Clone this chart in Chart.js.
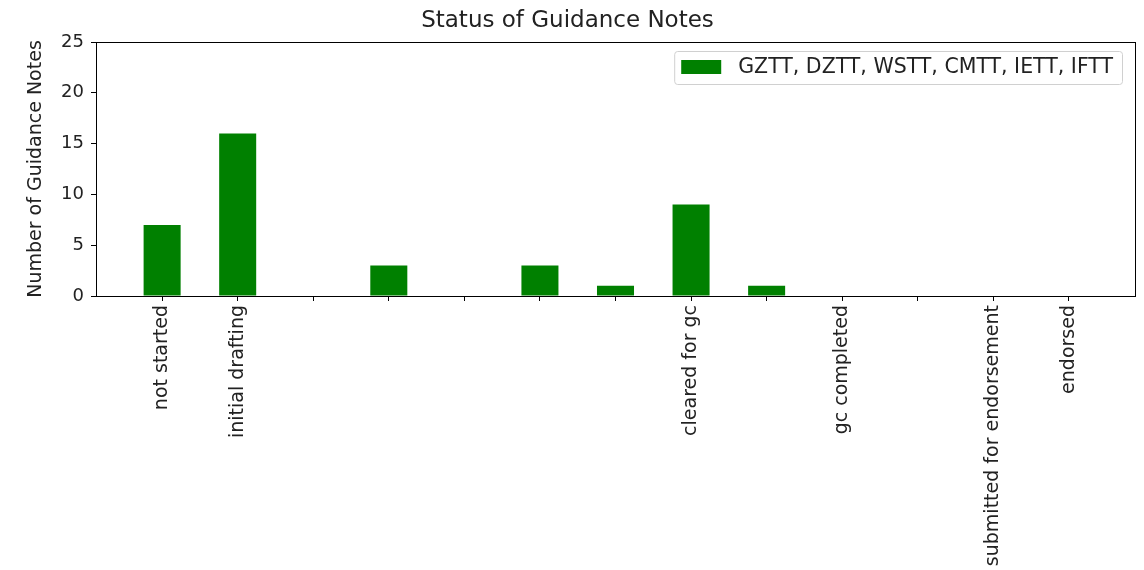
<!DOCTYPE html>
<html>
<head>
<meta charset="utf-8">
<script src="https://cdn.jsdelivr.net/npm/chart.js@4"></script>
<style>
  html, body { margin: 0; padding: 0; background: #fff; }
  #wrap { width: 1144px; height: 570px; }
</style>
</head>
<body>
<div id="wrap"><canvas id="statusChart"></canvas></div>
<script>
const statusLabels = [
  'not started', 'initial drafting', '', '', '', '', '',
  'cleared for gc', '', 'gc completed', '', 'submitted for endorsement', 'endorsed'
];
const noteCounts = [7, 16, 0, 3, 0, 3, 1, 9, 1, 0, 0, 0, 0];
const seriesName = 'GZTT, DZTT, WSTT, CMTT, IETT, IFTT';
const yTicks = [0, 5, 10, 15, 20, 25];

const font = 'DejaVu Sans';

// box round the axes plus a matplotlib-style legend inside the plot
const frameAndLegend = {
  id: 'frameAndLegend',
  afterDraw(chart) {
    const { ctx, chartArea: a } = chart;
    ctx.save();
    ctx.strokeStyle = '#000';
    ctx.lineWidth = 1;
    ctx.strokeRect(Math.round(a.left) + 0.5, Math.round(a.top) + 0.5,
      Math.round(a.right - a.left), Math.round(a.bottom - a.top));

    const ds = chart.data.datasets[0];
    ctx.font = '20.5px "' + font + '"';
    const tw = ctx.measureText(ds.label).width;
    const w = 64 + tw + 9, h = 33;
    const x = a.right - 13 - w, y = a.top + 9;
    ctx.fillStyle = 'rgba(255,255,255,0.8)';
    ctx.strokeStyle = '#d0d0d0';
    ctx.beginPath();
    ctx.roundRect(x + 0.5, y + 0.5, w, h, 3);
    ctx.fill();
    ctx.stroke();
    ctx.fillStyle = ds.backgroundColor;
    ctx.fillRect(x + 7, y + 9, 40, 14);
    ctx.fillStyle = '#222';
    ctx.textBaseline = 'middle';
    ctx.fillText(ds.label, x + 64, y + 17);
    ctx.restore();
  }
};

new Chart(document.getElementById('statusChart'), {
  type: 'bar',
  data: {
    datasets: [{
      label: seriesName,
      data: noteCounts.map((v, i) => ({ x: i, y: v })),
      backgroundColor: '#008000',
      borderWidth: 0,
      categoryPercentage: 1,
      barPercentage: 0.49
    }]
  },
  options: {
    responsive: true,
    maintainAspectRatio: false,
    animation: false,
    layout: { padding: { top: 0, right: 9, bottom: 0, left: 0 } },
    plugins: {
      legend: { display: false },
      tooltip: { enabled: false },
      title: {
        display: true,
        text: 'Status of Guidance Notes',
        color: '#222',
        font: { family: font, size: 23, weight: 'normal' },
        padding: { top: 7, bottom: 7.4 }
      }
    },
    scales: {
      x: {
        type: 'linear',
        offset: false,
        min: -0.875,
        max: 12.875,
        afterBuildTicks(scale) {
          scale.ticks = statusLabels.map((_, i) => ({ value: i }));
        },
        afterFit(scale) { scale.height = 274; },
        ticks: {
          autoSkip: false,
          minRotation: 90,
          maxRotation: 90,
          padding: 4,
          color: '#222',
          font: { family: font, size: 19 },
          callback: v => statusLabels[v]
        },
        grid: { offset: false, drawOnChartArea: false, drawTicks: true, tickLength: 5, color: '#000' },
        border: { display: true, color: '#000' }
      },
      y: {
        min: 0,
        max: 25,
        afterBuildTicks(scale) {
          scale.ticks = yTicks.map(v => ({ value: v }));
        },
        afterFit(scale) { scale.width = 96; },
        ticks: {
          padding: 7,
          color: '#222',
          font: { family: font, size: 18 }
        },
        grid: { drawOnChartArea: false, drawTicks: true, tickLength: 5, color: '#000' },
        border: { display: true, color: '#000' },
        title: {
          display: true,
          text: 'Number of Guidance Notes',
          color: '#222',
          font: { family: font, size: 19 },
          padding: { top: 25, bottom: 0 }
        }
      }
    }
  },
  plugins: [frameAndLegend]
});
</script>
</body>
</html>
